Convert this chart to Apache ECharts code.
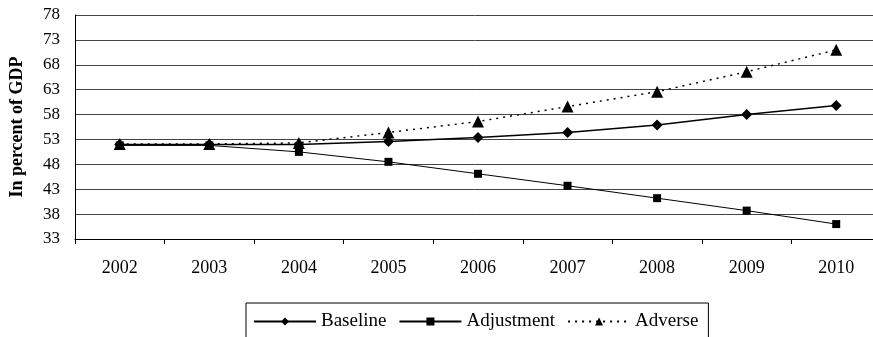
<!DOCTYPE html>
<html>
<head>
<meta charset="utf-8">
<script src="https://cdn.jsdelivr.net/npm/echarts@6/dist/echarts.min.js"></script>
<style>
html,body{margin:0;padding:0;background:#fff;}
#chart{width:873px;height:337px;}
</style>
</head>
<body>
<div id="chart"></div>
<script>
const categories = ['2002','2003','2004','2005','2006','2007','2008','2009','2010'];
const baseline   = [52.0, 52.0, 52.0, 52.6, 53.4, 54.4, 55.9, 58.0, 59.8];
const adjustment = [51.8, 51.8, 50.5, 48.5, 46.1, 43.7, 41.2, 38.7, 36.0];
const adverse    = [52.1, 52.1, 52.3, 54.4, 56.6, 59.6, 62.6, 66.6, 71.0];
const yMin = 33, yMax = 78, yStep = 5;

const serif = '"Liberation Serif", "DejaVu Serif", serif';
const chart = echarts.init(document.getElementById('chart'));
chart.setOption({
  animation: false,
  backgroundColor: '#fff',
  grid: { left: 75, width: 806, top: 15, bottom: 98, containLabel: false, outerBoundsMode: 'none' },
  xAxis: {
    type: 'category',
    data: categories,
    boundaryGap: true,
    axisLine: { lineStyle: { color: '#000', width: 1 } },
    axisTick: { show: true, length: 5, inside: false, lineStyle: { color: '#000' } },
    axisLabel: { color: '#000', fontFamily: serif, fontSize: 18, margin: 20 }
  },
  yAxis: {
    type: 'value',
    min: yMin, max: yMax, interval: yStep,
    name: 'In percent of GDP',
    nameLocation: 'middle',
    nameGap: 49,
    nameTextStyle: { color: '#000', fontFamily: serif, fontSize: 18, fontWeight: 'bold' },
    axisLine: { show: true, lineStyle: { color: '#000', width: 1 } },
    axisTick: { show: false },
    axisLabel: { color: '#000', fontFamily: serif, fontSize: 17, margin: 15 },
    splitLine: { show: true, lineStyle: { color: '#444', width: 1 } }
  },
  legend: {
    left: 246,
    top: 303,
    itemWidth: 62,
    itemHeight: 10,
    itemGap: 12,
    padding: [9, 10, 14, 7],
    borderColor: '#000',
    borderWidth: 1,
    textStyle: { color: '#000', fontFamily: serif, fontSize: 19 },
    data: ['Baseline', 'Adjustment', 'Adverse']
  },
  series: [
    {
      name: 'Baseline', type: 'line', data: baseline,
      symbol: 'diamond', symbolSize: 11,
      lineStyle: { color: '#000', width: 1.5 },
      itemStyle: { color: '#000' }
    },
    {
      name: 'Adjustment', type: 'line', data: adjustment,
      symbol: 'rect', symbolSize: 8,
      lineStyle: { color: '#000', width: 1 },
      itemStyle: { color: '#000' }
    },
    {
      name: 'Adverse', type: 'line', data: adverse,
      symbol: 'triangle', symbolSize: 12,
      lineStyle: { color: '#000', width: 1.5, type: [2, 5] },
      itemStyle: { color: '#000' }
    }
  ]
});
</script>
</body>
</html>
